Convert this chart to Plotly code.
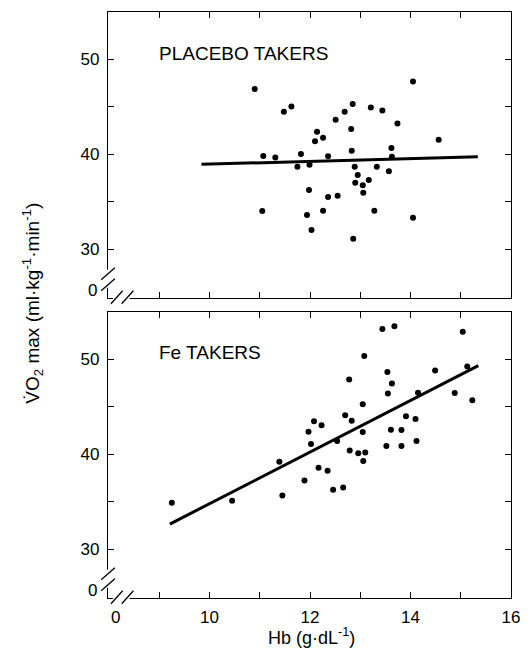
import plotly.graph_objects as go

# ---------------- data ----------------
placebo_hb = [10.90, 11.07, 11.31, 11.05, 11.48, 11.63, 11.82, 11.75, 11.99, 11.98,
              11.94, 12.03, 12.14, 12.10, 12.26, 12.36, 12.36, 12.26, 12.55, 12.51,
              12.69, 12.85, 12.82, 12.83, 12.89, 12.95, 12.90, 13.05, 13.06, 13.17,
              12.86, 13.28, 13.21, 13.44, 13.33, 13.57, 13.62, 13.63, 13.74, 14.05,
              14.05, 14.56]
placebo_vo2 = [46.88, 39.82, 39.68, 34.04, 44.49, 45.05, 40.04, 38.70, 38.91, 36.25,
               33.61, 32.04, 42.39, 41.37, 41.75, 39.79, 35.51, 34.07, 35.65, 43.65,
               44.49, 45.30, 42.67, 40.39, 38.70, 37.82, 37.02, 36.74, 35.96, 37.30,
               31.12, 34.07, 44.95, 44.63, 38.70, 38.21, 40.67, 39.75, 43.26, 47.68,
               33.33, 41.54]
placebo_fit_hb = [9.84, 15.34]
placebo_fit_vo2 = [38.95, 39.75]

fe_hb = [9.25, 10.45, 11.39, 11.45, 11.89, 11.97, 12.02, 12.08, 12.23, 12.17,
         12.35, 12.46, 12.54, 12.66, 12.70, 12.78, 12.83, 12.79, 12.96, 13.05,
         13.05, 13.10, 13.06, 13.08, 13.44, 13.68, 13.54, 13.55, 13.63, 13.52,
         13.61, 13.82, 13.82, 13.91, 14.10, 14.12, 14.15, 14.49, 14.88, 15.04,
         15.13, 15.23]
fe_vo2 = [34.91, 35.12, 39.23, 35.68, 37.26, 42.39, 41.09, 43.47, 43.05, 38.60,
          38.28, 36.28, 41.40, 36.53, 44.11, 47.86, 43.54, 40.42, 40.11, 45.26,
          42.35, 40.21, 39.30, 50.35, 53.19, 53.47, 48.67, 46.39, 47.44, 40.88,
          42.60, 42.56, 40.88, 44.00, 43.72, 41.40, 46.49, 48.81, 46.46, 52.88,
          49.23, 45.68]
fe_fit_hb = [9.21, 15.35]
fe_fit_vo2 = [32.67, 49.33]

panel_labels = ["PLACEBO TAKERS", "Fe TAKERS"]
x_major = [10, 12, 14, 16]
x_minor = [9, 11, 13, 15]
y_major = [30, 40, 50]
y_minor = [35, 45]
x_title = "Hb (g·dL<sup>-1</sup>)"
y_title = "V̇O<sub>2</sub> max (ml·kg<sup>-1</sup>·min<sup>-1</sup>)"

# ---------------- layout geometry ----------------
W, H = 531, 652
ML, MR, MT, MB = 108, 11, 12, 54
PW, PH = W - ML - MR, H - MT - MB
FONT = "Liberation Sans, Arial, sans-serif"


def px(x):
    return (x - ML) / PW


def py(y):
    return (H - MB - y) / PH


top_dom = [py(297.7), 1.0]
bot_dom = [0.0, py(311.7)]

fig = go.Figure()

series = [(placebo_hb, placebo_vo2, placebo_fit_hb, placebo_fit_vo2, "x", "y"),
          (fe_hb, fe_vo2, fe_fit_hb, fe_fit_vo2, "x2", "y2")]
for hb, vo2, fhb, fvo2, xa, ya in series:
    fig.add_trace(go.Scatter(x=fhb, y=fvo2, mode="lines", xaxis=xa, yaxis=ya,
                             line=dict(color="black", width=3), showlegend=False,
                             hoverinfo="skip"))
    fig.add_trace(go.Scatter(x=hb, y=vo2, mode="markers", xaxis=xa, yaxis=ya,
                             marker=dict(color="black", size=6), showlegend=False))

minor_style = dict(ticks="inside", ticklen=6, tickwidth=1.3, tickcolor="black", showgrid=False)
xcommon = dict(range=[7.98, 16.0], tickvals=x_major,
               minor=dict(minor_style, tickvals=x_minor),
               ticks="inside", ticklen=6, tickwidth=1.3, tickcolor="black",
               showline=True, linecolor="black", linewidth=1.3, mirror="ticks",
               showgrid=False, zeroline=False,
               tickfont=dict(family=FONT, size=17, color="black"))
ycommon = dict(range=[24.9, 55.0], tickvals=y_major,
               minor=dict(minor_style, tickvals=y_minor),
               ticks="inside", ticklen=6, tickwidth=1.3, tickcolor="black",
               showline=True, linecolor="black", linewidth=1.3, mirror="ticks",
               showgrid=False, zeroline=False, ticklabelstandoff=4,
               tickfont=dict(family=FONT, size=17, color="black"))

fig.update_layout(
    width=W, height=H,
    margin=dict(l=ML, r=MR, t=MT, b=MB, pad=0),
    paper_bgcolor="white", plot_bgcolor="white",
    font=dict(family=FONT, size=17, color="black"),
    xaxis=dict(xcommon, anchor="y", showticklabels=False),
    yaxis=dict(ycommon, anchor="x", domain=top_dom),
    xaxis2=dict(xcommon, anchor="y2", showticklabels=True, ticklabelstandoff=3),
    yaxis2=dict(ycommon, anchor="x2", domain=bot_dom),
)

shapes = []
annotations = []
for off in (0, 300):
    bottom = 297.7 + off
    # gaps in left axis line and bottom axis line
    shapes.append(dict(type="line", xref="paper", yref="paper",
                       x0=px(108), x1=px(108), y0=py(bottom - 28), y1=py(bottom - 10),
                       line=dict(color="white", width=4), layer="above"))
    shapes.append(dict(type="line", xref="paper", yref="paper",
                       x0=px(113), x1=px(130), y0=py(bottom), y1=py(bottom),
                       line=dict(color="white", width=4), layer="above"))
    # break slashes on the y axis
    for yc in (bottom - 24, bottom - 13):
        shapes.append(dict(type="line", xref="paper", yref="paper",
                           x0=px(101), x1=px(115), y0=py(yc + 6), y1=py(yc - 6),
                           line=dict(color="black", width=1.3), layer="above"))
    # break slashes on the x axis
    for xc in (117, 128):
        shapes.append(dict(type="line", xref="paper", yref="paper",
                           x0=px(xc - 6), x1=px(xc + 6), y0=py(bottom + 6), y1=py(bottom - 7),
                           line=dict(color="black", width=1.3), layer="above"))
    # "0" label on y axis
    annotations.append(dict(text="0", xref="paper", yref="paper", x=px(92), y=py(bottom - 7),
                            showarrow=False, xanchor="center", yanchor="middle",
                            font=dict(family=FONT, size=17, color="black")))

# panel labels
annotations.append(dict(text=panel_labels[0], xref="paper", yref="paper",
                        x=px(158), y=py(53), showarrow=False, xanchor="left", yanchor="middle",
                        font=dict(family=FONT, size=19, color="black")))
annotations.append(dict(text=panel_labels[1], xref="paper", yref="paper",
                        x=px(158), y=py(352), showarrow=False, xanchor="left", yanchor="middle",
                        font=dict(family=FONT, size=19, color="black")))
# "0" on x axis
annotations.append(dict(text="0", xref="paper", yref="paper", x=px(116), y=py(617),
                        showarrow=False, xanchor="center", yanchor="middle",
                        font=dict(family=FONT, size=17, color="black")))
# axis titles
annotations.append(dict(text=x_title, xref="paper", yref="paper", x=px(316), y=py(650),
                        showarrow=False, xanchor="center", yanchor="bottom",
                        font=dict(family=FONT, size=18, color="black")))
annotations.append(dict(text=y_title, xref="paper", yref="paper", x=px(31), y=py(303),
                        showarrow=False, xanchor="center", yanchor="middle", textangle=-90,
                        font=dict(family=FONT, size=19, color="black")))

fig.update_layout(shapes=shapes, annotations=annotations)
fig.write_html("out.html", config={"displayModeBar": False},
               post_script="document.body.style.margin='0';")
